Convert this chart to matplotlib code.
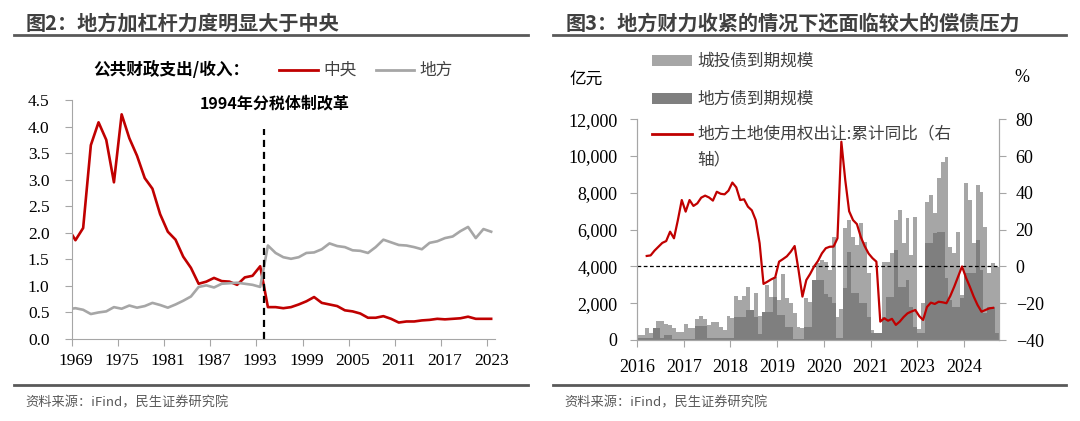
import numpy as np
import matplotlib
matplotlib.use('Agg')
import matplotlib.pyplot as plt
from matplotlib.patches import Rectangle
from matplotlib.lines import Line2D
from matplotlib.ticker import FuncFormatter, FixedLocator, NullFormatter

plt.rcParams['font.family'] = ['Liberation Serif', 'Noto Sans CJK SC', 'DejaVu Sans']
CJK = ['Noto Sans CJK SC', 'DejaVu Sans']

# ---------------- data: chart 2 ----------------
years = list(range(1968, 2024))
central = [2.10, 1.86, 2.09, 3.65, 4.08, 3.75, 2.95, 4.23, 3.78, 3.45, 3.03, 2.83, 2.35, 2.02,
           1.87, 1.55, 1.34, 1.04, 1.08, 1.15, 1.09, 1.08, 1.02, 1.16, 1.19, 1.37, 0.60, 0.60,
           0.58, 0.60, 0.65, 0.71, 0.79, 0.68, 0.65, 0.62, 0.54, 0.52, 0.48, 0.40, 0.40, 0.43,
           0.38, 0.31, 0.33, 0.33, 0.35, 0.36, 0.38, 0.37, 0.38, 0.39, 0.42, 0.38, 0.38, 0.38]
local = [0.56, 0.58, 0.55, 0.47, 0.50, 0.52, 0.60, 0.57, 0.63, 0.59, 0.62, 0.68, 0.64, 0.59,
         0.65, 0.72, 0.80, 0.98, 1.01, 0.97, 1.04, 1.05, 1.06, 1.04, 1.02, 0.98, 1.76, 1.62,
         1.54, 1.51, 1.54, 1.62, 1.63, 1.69, 1.80, 1.75, 1.73, 1.67, 1.66, 1.62, 1.73, 1.87,
         1.82, 1.77, 1.76, 1.73, 1.69, 1.81, 1.84, 1.90, 1.93, 2.03, 2.11, 1.90, 2.07, 2.02]
year_labels = ['1969', '1975', '1981', '1987', '1993', '1999', '2005', '2011', '2017', '2023']
reform_year = 1994

# ---------------- data: chart 3 ----------------
chengtou = [270, 270, 670, 360, 450, 1050, 1050, 850, 820, 670, 450, 450,
            870, 630, 630, 1120, 1300, 1160, 820, 1000, 1000, 725, 540, 1300,
            1180, 2390, 2175, 2390, 2900, 1450, 2540, 1300, 725, 2990, 2360, 3440,
            2175, 3590, 2300, 2000, 1450, 725, 670, 2270, 2085, 2270, 4170, 4350,
            4260, 3800, 5600, 1270, 1700, 6070, 6525, 5620, 5170, 6345, 5350, 3630,
            540, 360, 300, 4260, 4260, 4710, 6525, 7070, 5260, 6620, 4620, 6710,
            600, 1990, 7520, 7890, 6890, 8790, 9700, 9970, 5075, 4710, 5890, 2450,
            8520, 7620, 5260, 8430, 8070, 6160, 3630, 4170, 3990]
difang = [100, 100, 100, 100, 670, 670, 100, 270, 270, 50, 50, 50,
          50, 50, 50, 760, 760, 760, 100, 100, 100, 100, 100, 100,
          100, 1270, 1270, 1270, 1630, 1630, 1270, 300, 1540, 1540, 1540, 2360,
          1360, 1360, 725, 725, 50, 50, 50, 725, 725, 3260, 3260, 3260,
          2500, 2360, 2000, 100, 100, 2810, 4800, 2540, 2540, 1990, 1990, 1270,
          360, 360, 360, 1270, 2360, 2360, 4900, 2900, 2900, 3260, 1810, 725,
          360, 360, 5260, 5260, 5800, 5890, 5890, 3350, 2175, 1810, 1810, 2300,
          3630, 3630, 3630, 5440, 3800, 1450, 1810, 1810, 360]
land_yoy = [np.nan, np.nan, 5.7, 6.0, 8.6, 10.7, 12.8, 13.8, 18.9, 15.3, 25.2, 36.1,
            29.8, 36.1, 32.9, 34.3, 37.4, 38.5, 37.5, 35.8, 40.6, 39.5, 39.2, 41.2,
            45.6, 43.0, 36.1, 36.5, 32.5, 30.5, 25.2, 12.6, -9.5, -8.3, -7.0, -6.0,
            2.6, 4.0, 5.5, 8.0, 11.1, -2.0, -16.4, -7.4, -4.0, 0.0, 3.0, 7.1,
            9.9, 10.7, 10.8, 15.3, 67.8, 47.0, 30.0, 25.2, 23.0, 16.0, 11.0, 7.0,
            4.5, 2.6, -30.0, -28.2, -29.5, -28.5, -31.8, -30.0, -27.5, -25.5, -24.5, -23.7,
            -27.0, -29.1, -22.0, -19.7, -20.4, -19.2, -19.5, -20.0, -16.0, -11.0, -5.5, 0.0,
            -6.0, -11.0, -16.4, -21.0, -24.6, -23.7, -22.8, -22.5, np.nan]
month_labels = ['2016', '2017', '2018', '2019', '2020', '2021', '2023', '2024']

RED = '#c00000'
GRAY = '#a6a6a6'
DARK = '#7f7f7f'
AXC = '#a6a6a6'
TXT = '#404040'

fig = plt.figure(figsize=(10.8, 4.21), dpi=100)
W, H = 1080, 421
def fx(x): return x / W
def fy(y): return 1 - y / H

# ---------------- headers / footers ----------------
fig.text(fx(26), fy(23), '图2：地方加杠杆力度明显大于中央', family=CJK, fontsize=14.5,
         fontweight='bold', color=TXT, va='center', ha='left')
fig.text(fx(566), fy(23), '图3：地方财力收紧的情况下还面临较大的偿债压力', family=CJK, fontsize=14.5,
         fontweight='bold', color=TXT, va='center', ha='left')
for (x0, x1) in [(14, 528), (553, 1066)]:
    fig.add_artist(Line2D([fx(x0), fx(x1)], [fy(35), fy(35)], color='#595959', lw=2))
    fig.add_artist(Line2D([fx(x0), fx(x1)], [fy(385), fy(385)], color='#595959', lw=2))
fig.text(fx(25), fy(403), '资料来源：iFind，民生证券研究院', family=CJK, fontsize=9.5,
         color='#595959', va='center', ha='left')
fig.text(fx(564), fy(403), '资料来源：iFind，民生证券研究院', family=CJK, fontsize=9.5,
         color='#595959', va='center', ha='left')

# ---------------- chart 2 ----------------
ax1 = fig.add_axes([fx(71.6), fy(339), (495 - 71.6) / W, (339 - 100) / H])
ax1.plot(years, central, color=RED, lw=1.9, solid_joinstyle='round')
ax1.plot(years, local, color=GRAY, lw=1.9, solid_joinstyle='round')
ax1.vlines(reform_year - 0.5, 0, 3.95, colors='black', linestyles=(0, (3.2, 2.2)), lw=1.6)
ax1.set_xlim(1968.5, 2023.5)
ax1.set_ylim(0, 4.5)
ax1.set_yticks(np.arange(0, 4.51, 0.5))
ax1.yaxis.set_major_formatter(FuncFormatter(lambda v, p: f'{v:.1f}'))
lab_pos = [int(s) for s in year_labels]
ax1.xaxis.set_major_locator(FixedLocator([p - 0.5 for p in lab_pos]))
ax1.xaxis.set_major_formatter(NullFormatter())
ax1.xaxis.set_minor_locator(FixedLocator(lab_pos))
ax1.set_xticklabels(year_labels, minor=True)
ax1.tick_params(axis='x', which='minor', length=0, pad=10, labelsize=12.5)
ax1.tick_params(axis='x', which='major', length=5, color=AXC, direction='out')
ax1.tick_params(axis='y', length=5, color=AXC, direction='out', pad=11, labelsize=12.5)
for s in ['top', 'right']:
    ax1.spines[s].set_visible(False)
for s in ['left', 'bottom']:
    ax1.spines[s].set_color(AXC)
ax1.patch.set_alpha(0)

fig.text(fx(275), fy(104), '1994年分税体制改革', family=CJK, fontsize=11.5, fontweight='bold',
         color='black', va='center', ha='center')
# legend (chart 2)
fig.text(fx(93), fy(70), '公共财政支出/收入：', family=CJK, fontsize=12, fontweight='bold',
         color='black', va='center', ha='left')
fig.add_artist(Line2D([fx(279), fx(318)], [fy(70), fy(70)], color=RED, lw=2))
fig.text(fx(323), fy(70), '中央', family=CJK, fontsize=12, color=TXT, va='center', ha='left')
fig.add_artist(Line2D([fx(376), fx(414)], [fy(70), fy(70)], color=GRAY, lw=2))
fig.text(fx(419), fy(70), '地方', family=CJK, fontsize=12, color=TXT, va='center', ha='left')

# ---------------- chart 3 ----------------
ax2 = fig.add_axes([fx(637), fy(340), (999 - 637) / W, (340 - 119.3) / H])
months = np.arange(len(chengtou))
ax2.bar(months, chengtou, width=1.0, color=GRAY, linewidth=0)
ax2.bar(months, difang, width=1.0, color=DARK, linewidth=0)
ax2.set_xlim(-0.5, len(chengtou) - 0.5)
ax2.set_ylim(0, 12000)
ax2.set_yticks(np.arange(0, 12001, 2000))
ax2.yaxis.set_major_formatter(FuncFormatter(lambda v, p: f'{int(v):,}'))
ax2.set_xticks([-0.5 + 12 * k for k in range(len(month_labels))])
ax2.set_xticklabels(month_labels)
ax2.tick_params(axis='x', length=5, color=AXC, direction='out', pad=9, labelsize=13)
ax2.tick_params(axis='y', length=5, color=AXC, direction='out', pad=9, labelsize=13)
ax2.spines['top'].set_visible(False)
for s in ['left', 'bottom', 'right']:
    ax2.spines[s].set_color(AXC)

ax3 = ax2.twinx()
ax3.axhline(0, color='black', lw=0.9, ls=(0, (3, 2)))
ax3.plot(months, land_yoy, color=RED, lw=1.6, solid_joinstyle='round')
ax3.set_ylim(-40, 80)
ax3.set_yticks(np.arange(-40, 81, 20))
ax3.tick_params(axis='y', length=5, color=AXC, direction='out', pad=7, labelsize=13)
ax3.spines['top'].set_visible(False)
for s in ['left', 'bottom', 'right']:
    ax3.spines[s].set_color(AXC)

fig.text(fx(586), fy(80), '亿元', family=CJK, fontsize=12, color='black', va='center', ha='center')
fig.text(fx(1022), fy(78), '%', fontsize=13, color='black', va='center', ha='center')

# legend (chart 3)
fig.add_artist(Rectangle((fx(652), fy(65.5)), 40 / W, 10.5 / H, color=GRAY, lw=0))
fig.text(fx(697), fy(61), '城投债到期规模', family=CJK, fontsize=12, color=TXT, va='center', ha='left')
fig.add_artist(Rectangle((fx(652), fy(103.5)), 40 / W, 10.5 / H, color=DARK, lw=0))
fig.text(fx(697), fy(99), '地方债到期规模', family=CJK, fontsize=12, color=TXT, va='center', ha='left')
fig.add_artist(Line2D([fx(652), fx(692)], [fy(134), fy(134)], color=RED, lw=2))
fig.text(fx(697), fy(134), '地方土地使用权出让:累计同比（右', family=CJK, fontsize=12, color=TXT,
         va='center', ha='left')
fig.text(fx(697), fy(160), '轴）', family=CJK, fontsize=12, color=TXT, va='center', ha='left')

fig.savefig('out.png', dpi=100)
